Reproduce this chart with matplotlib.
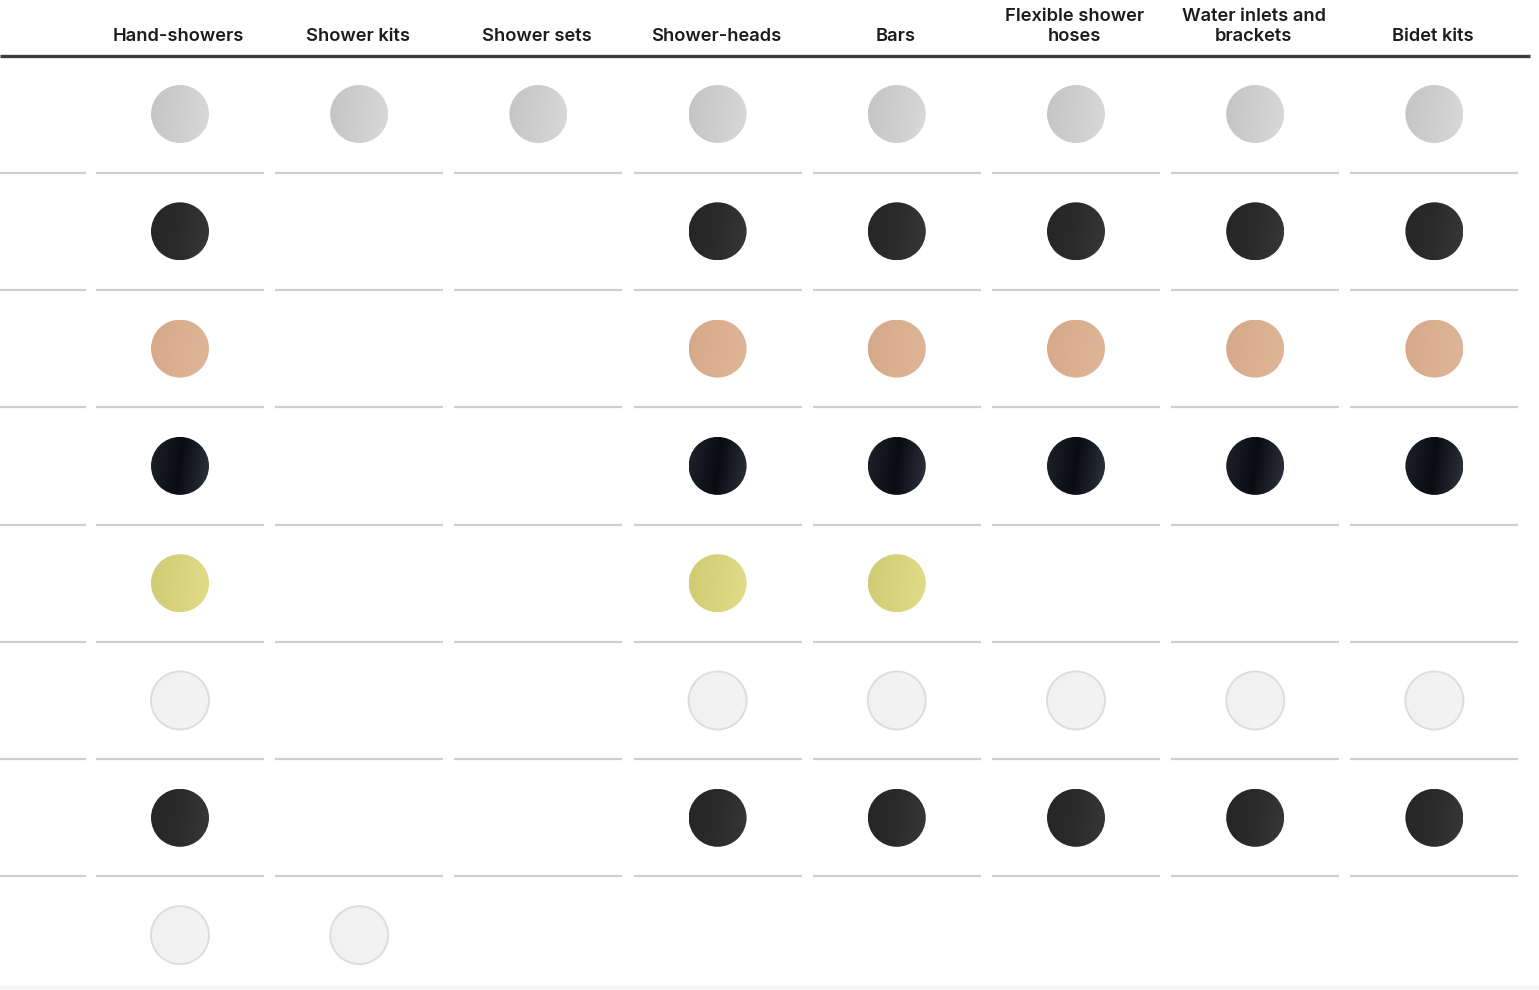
import numpy as np
import matplotlib
matplotlib.use("Agg")
import matplotlib.pyplot as plt
from matplotlib.patches import Ellipse
from matplotlib.colors import to_rgb

# ---------------- data ----------------
columns = ["Hand-showers", "Shower kits", "Shower sets", "Shower-heads", "Bars",
           "Flexible shower\nhoses", "Water inlets and\nbrackets", "Bidet kits"]

finishes = ["Chrome", "Matt black", "Brushed copper", "Black chrome",
            "Brushed gold", "Matt white", "Matt black 2", "Glossy white"]

# availability: 1 = finish available for that product category
avail_chrome        = [1, 1, 1, 1, 1, 1, 1, 1]
avail_matt_black    = [1, 0, 0, 1, 1, 1, 1, 1]
avail_copper        = [1, 0, 0, 1, 1, 1, 1, 1]
avail_black_chrome  = [1, 0, 0, 1, 1, 1, 1, 1]
avail_gold          = [1, 0, 0, 1, 1, 0, 0, 0]
avail_matt_white    = [1, 0, 0, 1, 1, 1, 1, 1]
avail_matt_black2   = [1, 0, 0, 1, 1, 1, 1, 1]
avail_glossy_white  = [1, 1, 0, 0, 0, 0, 0, 0]
availability = [avail_chrome, avail_matt_black, avail_copper, avail_black_chrome,
                avail_gold, avail_matt_white, avail_matt_black2, avail_glossy_white]

# gradient stops (left -> middle -> right) for each finish swatch
swatch_stops = [
    ["#c4c4c4", "#cecece", "#d9d9d9"],
    ["#252525", "#2b2b2b", "#383838"],
    ["#d4a888", "#dbb091", "#dfb699"],
    ["#1e222c", "#0a0c12", "#2e3340"],
    ["#cfcb74", "#d8d47e", "#e0dc88"],
    ["#f1f1f1", "#f2f2f2", "#f3f3f3"],
    ["#252525", "#2b2b2b", "#383838"],
    ["#f1f1f1", "#f2f2f2", "#f3f3f3"],
]
swatch_edges = [None, None, None, None, None, "#dddddd", None, "#dddddd"]

# ---------------- figure ----------------
W, H = 1539, 990
fig = plt.figure(figsize=(W / 100, H / 100), dpi=100)
ax = fig.add_axes([0, 0, 1, 1])
ax.set_axis_off()

col_px, col_step = 180.0, 179.2
row_px, row_step = 114.0, 117.3
ax.set_xlim(-col_px / col_step, (W - col_px) / col_step)
ax.set_ylim((H - row_px) / row_step, -row_px / row_step)

def px_x(p):
    return (p - col_px) / col_step

def px_y(p):
    return (p - row_px) / row_step

n_cols = len(columns)
n_rows = len(finishes)

# headers
for i, name in enumerate(columns):
    ax.text(i - 1.5 / col_step, px_y(45), name, ha="center", va="bottom", fontsize=13.2,
            family=["Inter", "DejaVu Sans"], fontweight="semibold", color="#1c1c1c",
            linespacing=1.22)

# header rule
ax.plot([px_x(0), px_x(1530)], [px_y(55.5)] * 2, color="#3c3c3c", lw=2.4,
        solid_capstyle="butt")

# row separators (segmented)
half = 84.0 / col_step
for r in range(n_rows - 1):
    y = r + 0.5
    ax.plot([px_x(0), px_x(86)], [y, y], color="#cfcfcf", lw=1.6, solid_capstyle="butt")
    for i in range(n_cols):
        ax.plot([i - half, i + half], [y, y], color="#cfcfcf", lw=1.6,
                solid_capstyle="butt")

# faint bottom band
ax.axhspan(px_y(985), px_y(990), color="#f8f8f8", lw=0)

# swatches
rad_x = 29.0 / col_step
rad_y = 29.0 / row_step
nx = 96
xx, yy = np.meshgrid(np.linspace(0, 1, nx), np.linspace(0, 1, nx))
tt = np.clip(0.88 * xx + 0.12 * yy, 0, 1)
for r in range(n_rows):
    stops = np.array([to_rgb(c) for c in swatch_stops[r]])
    img = np.empty((nx, nx, 3))
    for k in range(3):
        img[..., k] = np.interp(tt, [0, 0.5, 1], stops[:, k])
    for i in range(n_cols):
        if not availability[r][i]:
            continue
        ell = Ellipse((i, r), 2 * rad_x, 2 * rad_y, transform=ax.transData,
                      facecolor="none", edgecolor="none")
        ax.add_patch(ell)
        im = ax.imshow(img, extent=(i - rad_x, i + rad_x, r + rad_y, r - rad_y),
                       interpolation="bilinear", aspect="auto", zorder=3)
        im.set_clip_path(ell)
        if swatch_edges[r]:
            ax.add_patch(Ellipse((i, r), 2 * rad_x, 2 * rad_y, facecolor="none",
                                 edgecolor=swatch_edges[r], lw=1.4, zorder=4))

ax.set_xlim(-col_px / col_step, (W - col_px) / col_step)
ax.set_ylim((H - row_px) / row_step, -row_px / row_step)
fig.savefig("out.png", dpi=100, facecolor="white")
